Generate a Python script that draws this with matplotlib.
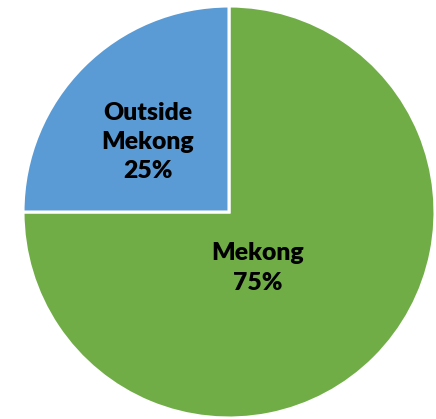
import matplotlib
matplotlib.use("Agg")
import matplotlib.pyplot as plt

# data
names = ['Mekong', 'Outside\nMekong']
shares = [75, 25]
colors = ['#70AD47', '#5B9BD5']
# label centres in pie units (radius = 1)
label_pos = [(0.141, -0.272), (-0.393, 0.340)]

fig = plt.figure(figsize=(4.36, 4.19), dpi=100)
ax = fig.add_axes([23/436, 1/419, 412/436, 412/419])

wedges, _ = ax.pie(shares, colors=colors, startangle=90, counterclock=False,
                   radius=1, wedgeprops=dict(edgecolor='white', linewidth=2.2))
ax.set_xlim(-1, 1)
ax.set_ylim(-1, 1)
ax.set_aspect('auto')
ax.axis('off')

for name, val, (x, y) in zip(names, shares, label_pos):
    ax.text(x, y, f'{name}\n{val}%', ha='center', va='center',
            fontsize=17.8, fontweight='heavy', family='Lato',
            linespacing=1.4, color='black')

fig.savefig('out.png', dpi=100)
